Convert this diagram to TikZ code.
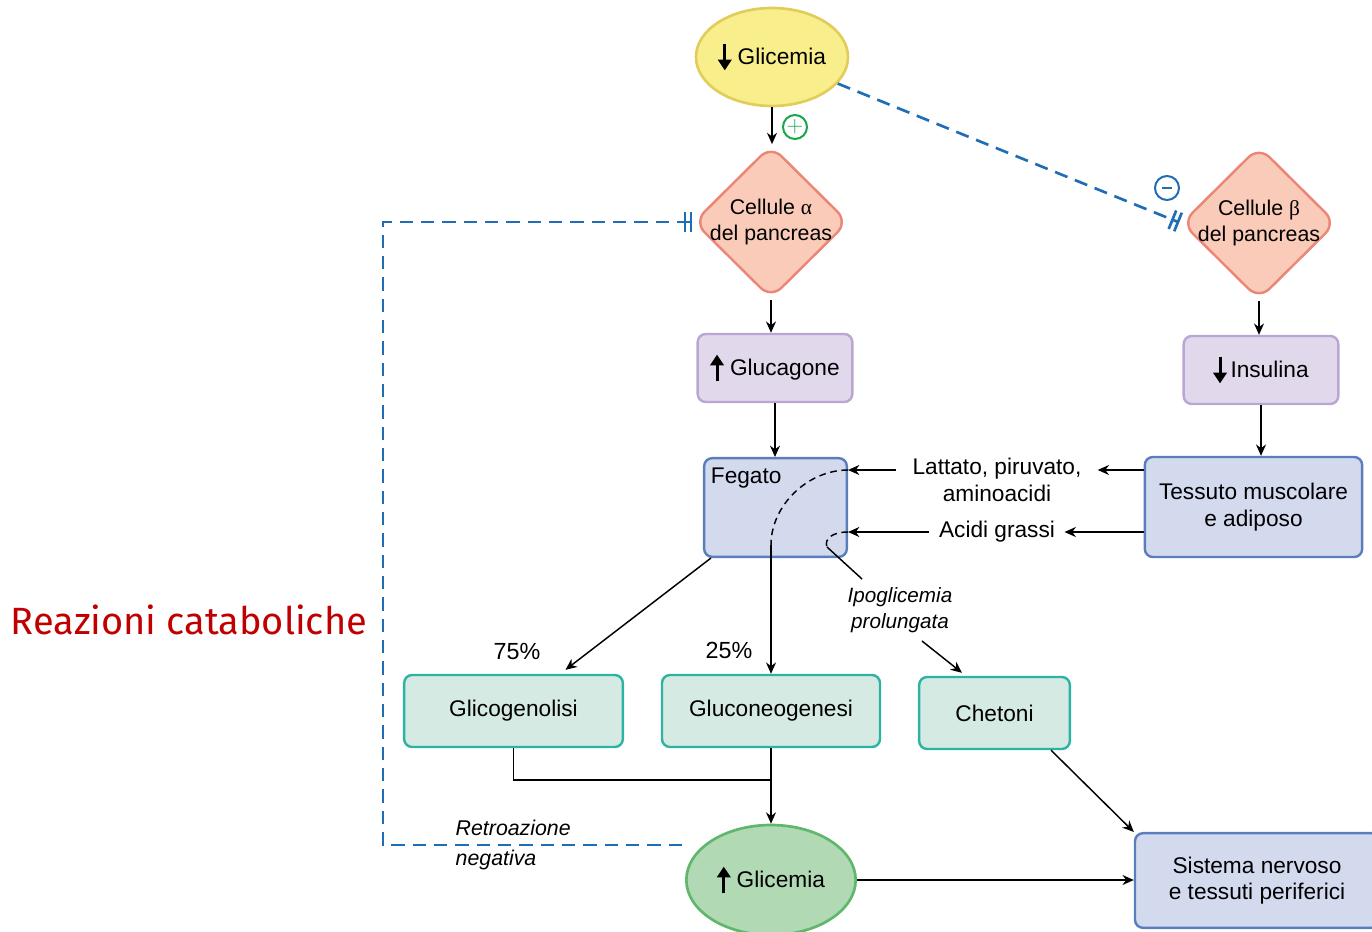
\documentclass[tikz,border=0pt]{standalone}
\usepackage{fontspec}
\setmainfont{Liberation Sans}
\newfontfamily\grecofont{Liberation Serif}
\newfontfamily\titolofont{Fira Sans}
\usepackage{xcolor}
\usepackage{tikz}
\usetikzlibrary{shapes.geometric, arrows.meta, calc}

\definecolor{giallo}{HTML}{F8EF8C}
\definecolor{giallobordo}{HTML}{E2CD5A}
\definecolor{rosa}{HTML}{F9CBB8}
\definecolor{rosabordo}{HTML}{EC8575}
\definecolor{lilla}{HTML}{E1D8EB}
\definecolor{lillabordo}{HTML}{B9A6D3}
\definecolor{blu}{HTML}{D3DAEE}
\definecolor{blubordo}{HTML}{5A7EBD}
\definecolor{acqua}{HTML}{D4EAE3}
\definecolor{acquabordo}{HTML}{2DB3A4}
\definecolor{verde}{HTML}{B0D9B4}
\definecolor{verdebordo}{HTML}{5FB76B}
\definecolor{bluinib}{HTML}{1F6DB5}
\definecolor{verdepiu}{HTML}{1AA64B}
\definecolor{rossotitolo}{HTML}{C00000}

% frecce grosse nel testo
\newcommand{\giu}{\tikz[x=1pt, y=1pt, baseline=0pt]
  \draw[black, line width=2.2pt, -{Triangle[length=8pt, width=10pt]}] (0,15.5) -- (0,-4.5);}
\newcommand{\su}{\tikz[x=1pt, y=1pt, baseline=0pt]
  \draw[black, line width=2.2pt, -{Triangle[length=8pt, width=10pt]}] (0,-4.5) -- (0,15.5);}

\tikzset{doppiabarra/.tip={Bar[width=15pt, line width=2pt, sep=2.5pt] Bar[width=15pt, line width=2pt]}}

\begin{document}
\begin{tikzpicture}[
  x=0.75pt, y=-0.75pt,
  font=\fontsize{17}{20}\selectfont, >={Stealth[length=8.5pt,width=7.5pt]},
  freccia/.style={->, line width=1.1pt},
  linea/.style={line width=1.1pt},
  tratteggio/.style={line width=1.1pt, dash pattern=on 5pt off 3.5pt},
  ellisse/.style={ellipse, line width=2pt, inner sep=0pt},
  rombo/.style={diamond, draw=rosabordo, fill=rosa, line width=1.8pt, rounded corners=11pt,
                minimum width=116pt, minimum height=115pt, inner sep=0pt},
  scatola/.style={rectangle, rounded corners=6pt, line width=1.8pt, align=center, inner sep=0pt},
  ormone/.style={scatola, draw=lillabordo, fill=lilla, minimum width=116pt, minimum height=51pt},
  organo/.style={scatola, draw=blubordo, fill=blu},
  via/.style={scatola, draw=acquabordo, fill=acqua, minimum height=54pt},
  inib/.style={draw=bluinib, line width=2pt, dash pattern=on 10pt off 6pt},
  segno/.style={circle, line width=1.5pt, minimum size=18pt, inner sep=0pt},
  nota/.style={font=\fontsize{15.5}{19}\selectfont\itshape, align=center}]
  \useasboundingbox (0,0) rectangle (1372,932);
  \clip (0,0) rectangle (1372,932);

  % pancreas
  \node[ellisse, draw=giallobordo, fill=giallo, minimum width=114pt, minimum height=73.5pt,
        label={center:{\giu\ Glicemia}}] (glicbasso) at (772,57) {};
  \node[rombo, label={[align=center, font=\fontsize{16}{20}\selectfont]center:Cellule {\grecofont α}\\del pancreas}] (alfa) at (771,222) {};
  \node[rombo, label={[align=center, font=\fontsize{16}{20}\selectfont]center:Cellule {\grecofont β}\\del pancreas}] (beta) at (1259,223) {};
  \node[segno, draw=verdepiu, text=verdepiu] (piu) at (795,127) {\fontsize{17}{17}\selectfont$+$};
  \node[segno, draw=bluinib] (meno) at (1167,188) {\color{bluinib}\rule{8pt}{2.2pt}};

  % ormoni e organi
  \node[ormone] (glucagone) at (775,368) {\su\ Glucagone};
  \node[ormone] (insulina) at (1261,370) {\giu\,Insulina};
  \node[organo, minimum width=107pt, minimum height=74pt] (fegato) at (775.5,507.5) {};
  \node[anchor=north west, inner sep=2pt] (fegatotesto) at ($(fegato.north west)+(5,8)$) {Fegato};
  \node[organo, minimum width=163pt, minimum height=75pt] (tessuto) at (1253.5,507) {Tessuto muscolare\\e adiposo};
  \node[align=center, inner xsep=12pt] (lattato) at (997,480) {Lattato, piruvato,\\aminoacidi};
  \node[inner xsep=7pt] (acidi) at (997,532) {Acidi grassi};
  \node[nota] (ipo) at (900,610) {Ipoglicemia\\prolungata};
  \coordinate (lat) at (997,470);
  \coordinate (gomito) at (771,545);
  \coordinate (uncino) at (827,547);

  % vie metaboliche
  \node[via, minimum width=164pt] (glico) at (513.5,711) {Glicogenolisi};
  \node[via, minimum width=163.5pt] (gluco) at (771,711) {Gluconeogenesi};
  \node[via, minimum width=113pt] (chetoni) at (994.5,713) {Chetoni};
  \node[font=\fontsize{17.5}{20}\selectfont] (p75) at (517,652) {75\%};
  \node[font=\fontsize{17.5}{20}\selectfont] (p25) at (729,650) {25\%};
  \coordinate (unione) at (771,780);

  \node[ellisse, draw=verdebordo, fill=verde, minimum width=127pt, minimum height=82.5pt,
        label={center:{\su\ Glicemia}}] (glicalto) at (771,880) {};
  \node[organo, minimum width=183pt, minimum height=71pt] (sistema) at (1257,880.5) {Sistema nervoso\\e tessuti periferici};
  \node[nota, align=left, anchor=west, font=\fontsize{16}{23}\selectfont\itshape] (retroazione) at (451,845) {Retroazione\\negativa};
  \coordinate (retro) at (383,845);
  \node[anchor=west, text=rossotitolo, font=\titolofont\fontsize{28.5}{32}\selectfont] (titolo) at (6,620) {Reazioni cataboliche};

  % connettori
  \draw[freccia] (glicbasso.south) -- (glicbasso.south |- alfa.north);
  \draw[freccia] (alfa.south) -- (alfa.south |- glucagone.north);
  \draw[freccia] (glucagone.south) -- (glucagone.south |- fegato.north);
  \draw[freccia] (beta.south) -- (beta.south |- insulina.north);
  \draw[freccia] (insulina.south) -- (insulina.south |- tessuto.north);
  \draw[freccia] (tessuto.west |- lat) -- (lattato.east |- lat);
  \draw[freccia] (lattato.west |- lat) -- (fegato.east |- lat);
  \draw[freccia] (tessuto.west |- acidi) -- (acidi.east);
  \draw[freccia] (acidi.west) -- (fegato.east |- acidi);
  \draw[tratteggio] (fegato.east |- lat) .. controls +(-40,0) and +(0,-40) .. (gomito);
  \draw[freccia] (gomito) -- (gluco.north);
  \draw[tratteggio] (fegato.east |- acidi) .. controls +(-16,0) and +(-3,-8) .. (uncino);
  \draw[linea] (uncino) -- ($(ipo.north)+(-38,-4)$);
  \draw[freccia] ($(ipo.south)+(22,4)$) -- ($(chetoni.north west)+(44,-3)$);
  \draw[freccia] ($(fegato.south west)+(8,0)$) -- ($(glico.north)+(52,-4)$);
  \draw[linea] (glico.south) |- (unione);
  \draw[freccia] (gluco.south) -- (glicalto.north);
  \draw[freccia] ($(chetoni.south east)+(-20,0)$) -- (sistema.north west);
  \draw[freccia] (glicalto.east) -- (glicalto.east -| sistema.west);

  % retroazione
  \draw[inib, -doppiabarra, shorten >=1pt] (glicbasso.-22) -- (beta.west);
  \draw[inib, doppiabarra-] (alfa.west) -- (alfa.west -| retro) -- (retro) -- (retro -| glicalto.west);
\end{tikzpicture}
\end{document}
